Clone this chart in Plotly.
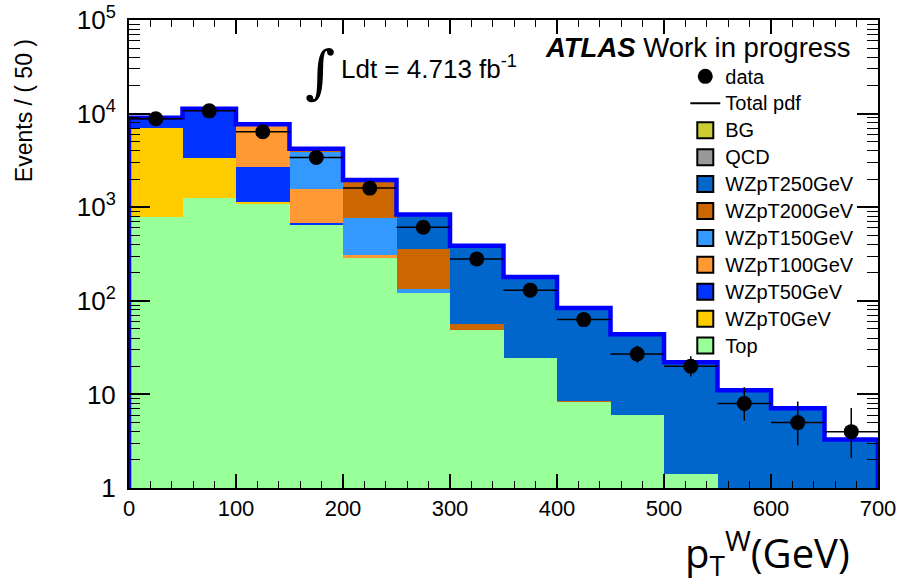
import plotly.graph_objects as go

# ---------------- data ----------------
bin_edges = [0, 50, 100, 150, 200, 250, 300, 350, 400, 450, 500, 550, 600, 650, 700]
bin_centers = [25, 75, 125, 175, 225, 275, 325, 375, 425, 475, 525, 575, 625, 675]

top_vals    = [780, 1260, 1100, 660, 290, 122, 49, 24.5, 8.3, 6.0, 1.4, 0, 0, 0]
wzpt0_vals  = [6300, 2100, 30, 0, 0, 0, 0, 0, 0, 0, 0, 0, 0, 0]
wzpt50_vals = [1550, 7300, 1580, 20, 0, 0, 0, 0, 0, 0, 0, 0, 0, 0]
wzpt100_vals = [300, 400, 4700, 880, 18, 0, 0, 0, 0, 0, 0, 0, 0, 0]
wzpt150_vals = [60, 100, 200, 2350, 465, 11, 0, 0, 0, 0, 0, 0, 0, 0]
wzpt200_vals = [20, 50, 60, 220, 1100, 222, 8, 0, 0.3, 0, 0, 0, 0, 0]
wzpt250_vals = [10, 30, 20, 80, 80, 480, 330, 155, 75, 38, 20.6, 11.1, 7.1, 3.3]
qcd_vals = [0, 0, 0, 0, 0, 0, 0, 0, 0, 0, 0, 0, 0, 0]
bg_vals  = [0, 0, 0, 0, 0, 0, 0, 0, 0, 0, 0, 0, 0, 0]

data_vals   = [8800, 10700, 6400, 3400, 1600, 610, 280, 130, 63, 27, 20, 8, 5, 4]
data_err_lo = [93.3, 103.2, 79.8, 58.1, 39.8, 24.2, 16.2, 10.9, 7.9, 5.17, 4.43, 2.76, 2.16, 1.91]
data_err_hi = [94.3, 104.2, 80.8, 59.1, 40.8, 25.2, 17.2, 11.9, 8.97, 6.26, 5.50, 3.94, 3.38, 3.16]
bin_half_width = [25] * 14

y_tickvals = [1, 10, 100, 1000, 10000, 100000]
y_ticktext = ["1", "10", "10<sup>2</sup>", "10<sup>3</sup>", "10<sup>4</sup>", "10<sup>5</sup>"]
x_tickvals = [0, 100, 200, 300, 400, 500, 600, 700]
x_ticktext = ["0", "100", "200", "300", "400", "500", "600", "700"]

# stack order (bottom -> top), names, colours
components = [
    ("Top", top_vals, "#99ff99"),
    ("WZpT0GeV", wzpt0_vals, "#ffcc00"),
    ("WZpT50GeV", wzpt50_vals, "#0033ff"),
    ("WZpT100GeV", wzpt100_vals, "#ff9933"),
    ("WZpT150GeV", wzpt150_vals, "#3399ff"),
    ("WZpT200GeV", wzpt200_vals, "#cc6600"),
    ("WZpT250GeV", wzpt250_vals, "#0066cc"),
    ("QCD", qcd_vals, "#999999"),
    ("BG", bg_vals, "#cccc33"),
]

FONT = "Liberation Sans, Arial, Helvetica, sans-serif"


def legend_label(s):
    return '<span style="font-size:20px">' + s + "</span>"


fig = go.Figure()

n_comp = len(components)
for i, (name, vals, col) in enumerate(components):
    fig.add_trace(go.Bar(
        x=bin_centers, y=vals, width=50, name=name,
        marker=dict(color=col, line=dict(width=0)),
        showlegend=False, hoverinfo="skip",
    ))
    # legend swatch (no data)
    fig.add_trace(go.Scatter(
        x=[None], y=[None], name=legend_label(name), mode="markers",
        marker=dict(color=col, symbol="square", size=16, line=dict(color="black", width=2)),
        showlegend=True, legendrank=100 + (n_comp - i),
    ))

# total pdf outline
totals = [sum(c[1][k] for c in components) for k in range(len(bin_centers))]
ymin = y_tickvals[0]
out_x = [bin_edges[0]] + bin_edges[:-1] + [bin_edges[-1], bin_edges[-1]]
out_y = [ymin] + totals + [totals[-1], ymin]
fig.add_trace(go.Scatter(
    x=out_x, y=out_y, mode="lines", line=dict(color="#0000ff", width=4.5, shape="hv"),
    showlegend=False, hoverinfo="skip",
))
fig.add_trace(go.Scatter(
    x=[None], y=[None], mode="lines", name=legend_label("Total pdf"),
    line=dict(color="black", width=2), legendrank=2,
))

# data
fig.add_trace(go.Scatter(
    x=bin_centers, y=data_vals, mode="markers", name=legend_label("data"),
    marker=dict(color="black", size=15),
    error_y=dict(type="data", array=data_err_hi, arrayminus=data_err_lo,
                 color="black", thickness=1.5, width=0),
    error_x=dict(type="data", array=bin_half_width, color="black", thickness=1.5, width=0),
    legendrank=1,
))

minor_y = [m * 10 ** e for e in range(5) for m in range(2, 10)]

fig.update_layout(
    width=900, height=584,
    margin=dict(l=129, r=22, t=20, b=96, autoexpand=False),
    paper_bgcolor="white", plot_bgcolor="white",
    barmode="stack", bargap=0,
    font=dict(family=FONT, color="black"),
    legend=dict(
        x=0.7427, y=0.919, xanchor="left", yanchor="top",
        bgcolor="rgba(0,0,0,0)", font=dict(size=18.4, family=FONT),
        traceorder="normal", tracegroupgap=0, itemwidth=30,
    ),
    xaxis=dict(
        range=[0, 700], tickmode="array", tickvals=x_tickvals, ticktext=x_ticktext,
        ticks="inside", ticklen=14, tickwidth=1.5, tickcolor="black",
        showline=True, linecolor="black", linewidth=2, mirror="allticks",
        showgrid=False, zeroline=False, automargin=False,
        tickfont=dict(size=22, family=FONT),
        minor=dict(ticks="inside", ticklen=7, tickwidth=1.2, tickcolor="black", dtick=20, tick0=0, showgrid=False),
    ),
    yaxis=dict(
        type="log", range=[0, 5], tickmode="array", tickvals=y_tickvals, ticktext=y_ticktext,
        ticks="inside", ticklen=21, tickwidth=1.5, tickcolor="black",
        showline=True, linecolor="black", linewidth=2, mirror="allticks",
        showgrid=False, zeroline=False, automargin=False,
        tickfont=dict(size=26, family=FONT), ticklabelstandoff=6,
        minor=dict(ticks="inside", ticklen=11, tickwidth=1.2, tickcolor="black",
                   tickmode="array", tickvals=minor_y, showgrid=False),
    ),
    annotations=[
        dict(text="<b><i>ATLAS</i></b> Work in progress", xref="paper", yref="paper",
             x=0.553, y=0.942, xanchor="left", yanchor="middle", showarrow=False,
             font=dict(size=27.5, family=FONT)),
        dict(text="\u222b", xref="paper", yref="paper", x=0.255, y=0.889,
             xanchor="center", yanchor="middle", showarrow=False,
             font=dict(size=58, family="DejaVu Serif, serif")),
        dict(text="Ldt = 4.713 fb<sup>-1</sup>", xref="paper", yref="paper",
             x=0.28, y=0.899, xanchor="left", yanchor="middle", showarrow=False,
             font=dict(size=26, family=FONT)),
        dict(text="Events / ( 50 )", xref="paper", yref="paper", x=-0.141, y=0.806,
             xanchor="center", yanchor="middle", textangle=-90, showarrow=False,
             font=dict(size=23, family=FONT)),
        dict(text="p<sub>T</sub><sup>W</sup>(GeV)", xref="paper", yref="paper",
             x=0.853, y=-0.138, xanchor="center", yanchor="middle", showarrow=False,
             font=dict(size=40, family="Open Sans, sans-serif")),
    ],
)

# remove the browser's default 8px page margin so the figure sits at (0, 0)
fig.write_html("out.html", post_script="document.body.style.margin='0';",
               config={"displayModeBar": False})
